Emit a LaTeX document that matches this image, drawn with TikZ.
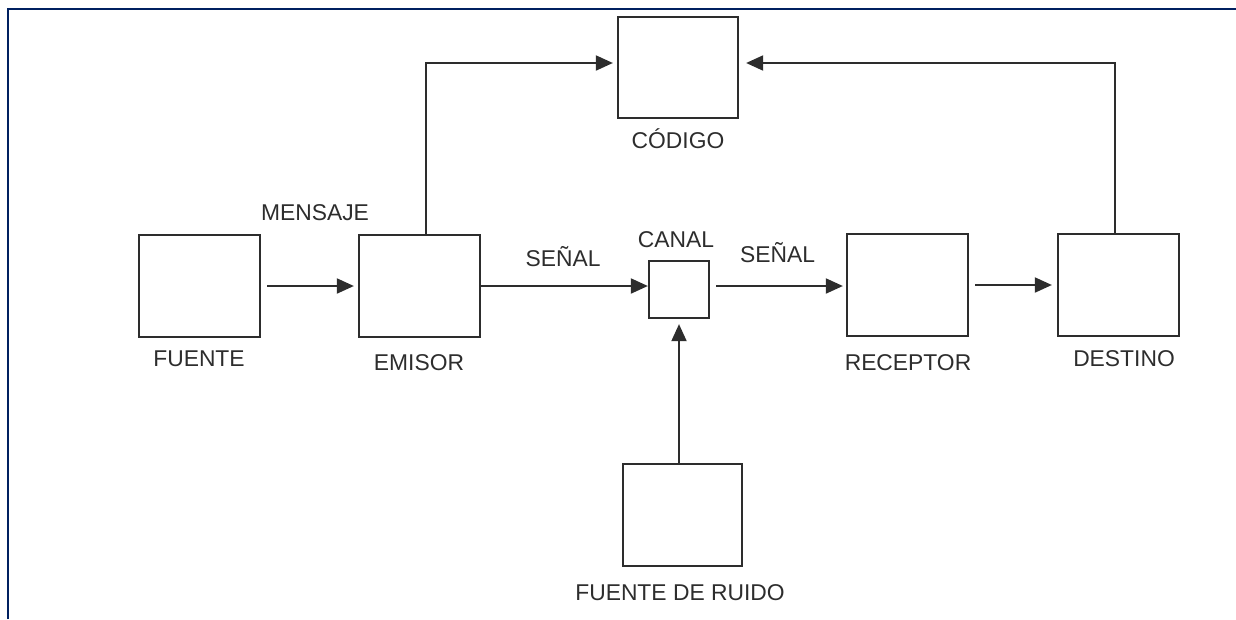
\documentclass[tikz,border=0pt]{standalone}
\usepackage{fontspec}
\setmainfont{Liberation Sans}
\usetikzlibrary{arrows.meta}
\definecolor{azulmarco}{RGB}{0,32,96}
\definecolor{gristexto}{RGB}{45,45,45}
\begin{document}
\begin{tikzpicture}[x=0.02cm,y=-0.02cm,
  bloque/.style={draw=gristexto,line width=1.3pt,minimum width=2.42cm,minimum height=2.04cm,inner sep=0pt},
  etiqueta/.style={anchor=base,inner sep=0pt,text=gristexto,font=\fontsize{13pt}{15pt}\selectfont},
  flecha/.style={draw=gristexto,line width=1.1pt,-{Triangle[length=0.34cm,width=0.3cm]}}]
\useasboundingbox (0,0) rectangle (1236,619);
% marco
\draw[azulmarco,line width=1pt] (8,619) -- (8,9) -- (1236,9);
% bloques
\node[bloque] (fuente) at (199.5,286) {};
\node[bloque] (emisor) at (419.5,286) {};
\node[bloque,minimum width=1.2cm,minimum height=1.14cm] (canal) at (679,289.5) {};
\node[bloque] (receptor) at (907.5,285) {};
\node[bloque] (destino) at (1118.5,285) {};
\node[bloque,minimum width=2.4cm,minimum height=2.02cm] (codigo) at (678,67.5) {};
\node[bloque,minimum width=2.38cm] (ruido) at (682.5,515) {};
% etiquetas
\node[etiqueta] (tfuente) at (199,366.5) {FUENTE};
\node[etiqueta] (temisor) at (419,370) {EMISOR};
\node[etiqueta] (treceptor) at (908,370) {RECEPTOR};
\node[etiqueta] (tdestino) at (1124,366.5) {DESTINO};
\node[etiqueta] (tcodigo) at (678,148) {CÓDIGO};
\node[etiqueta] (truido) at (680,600) {FUENTE DE RUIDO};
\node[etiqueta] (tcanal) at (676,247.5) {CANAL};
\node[etiqueta] (tsenal1) at (563,266.5) {SEÑAL};
\node[etiqueta] (tsenal2) at (777.5,262.5) {SEÑAL};
\node[etiqueta] (tmensaje) at (315,220) {MENSAJE};
% conexiones
\draw[flecha,shorten <=0.12cm,shorten >=0.08cm] (fuente.east) -- (emisor.west);
\draw[flecha] (emisor.east) -- (emisor.east -| canal.west);
\draw[flecha,shorten <=0.12cm,shorten >=0.06cm] (emisor.east -| canal.east) -- (emisor.east -| receptor.west);
\draw[flecha,shorten <=0.12cm,shorten >=0.1cm] (receptor.east) -- (destino.west);
\draw[flecha,shorten >=0.08cm] ([xshift=0.13cm]emisor.north) |- ([yshift=0.09cm]codigo.west);
\draw[flecha,shorten >=0.14cm] ([xshift=-0.07cm]destino.north) |- ([yshift=0.09cm]codigo.east);
\draw[flecha,shorten >=0.1cm] (ruido.north -| canal.south) -- (canal.south);
\end{tikzpicture}
\end{document}
